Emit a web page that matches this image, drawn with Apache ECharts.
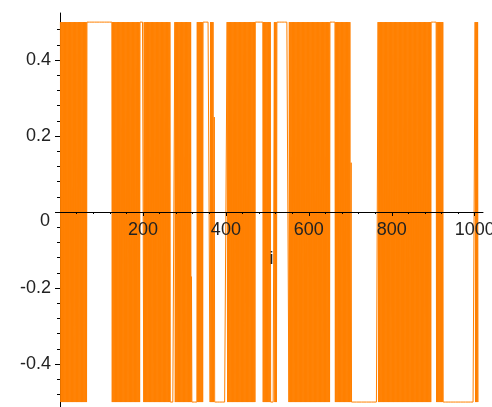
<!DOCTYPE html>
<html>
<head>
<meta charset="utf-8">
<script src="https://cdn.jsdelivr.net/npm/echarts@6/dist/echarts.min.js"></script>
<style>
html,body{margin:0;padding:0;background:#fff;}
#c{width:492px;height:407px;}
</style>
</head>
<body>
<div id="c"></div>
<script>
// Run-length description of the series:
// 'alt' = value flips between +0.5 and -0.5 at every step, 'hi' = stays at +0.5, 'lo' = stays at -0.5
const runStart = [1, 65, 125, 193, 201, 267, 277, 318, 330, 345, 361, 371, 402, 472, 489, 508, 516, 523, 552, 651, 663, 701, 766, 896, 908, 925, 1000];
const runKind  = ['alt','hi','alt','hi','alt','lo','alt','lo','alt','hi','alt','lo','alt','hi','alt','lo','alt','hi','alt','hi','alt','lo','alt','hi','alt','lo','alt'];
const lastIndex = 1008;
// isolated in-between values seen at some transitions
const oddIndex = [317, 372, 702];
const oddValue = [-0.17, 0.25, 0.13];

const xTickLabels = [200, 400, 600, 800, 1000];
const yTickLabels = [-0.4, -0.2, 0, 0.2, 0.4];
const yMinorTicks = [-0.48,-0.44,-0.36,-0.32,-0.28,-0.24,-0.16,-0.12,-0.08,-0.04,0.04,0.08,0.12,0.16,0.24,0.28,0.32,0.36,0.44,0.48];

const data = [];
let r = 0;
for (let i = runStart[0]; i <= lastIndex; i++) {
  while (r + 1 < runStart.length && i >= runStart[r + 1]) r++;
  const k = runKind[r];
  let v = k === 'hi' ? 0.5 : k === 'lo' ? -0.5 : (i % 2 ? 0.5 : -0.5);
  const oi = oddIndex.indexOf(i);
  if (oi >= 0) v = oddValue[oi];
  data.push([i, v]);
}

const yMin = -0.513, yMax = 0.524;
const gridTop = 13, gridH = 394;
const zeroOffset = -Math.round(gridH * (0 - yMin) / (yMax - yMin)); // move x axis up to y = 0

const chart = echarts.init(document.getElementById('c'), null, {renderer: 'canvas'});
const font = {fontFamily: 'Liberation Sans, Arial, sans-serif', fontSize: 18, color: '#222'};
chart.setOption({
  animation: false,
  backgroundColor: '#fff',
  grid: {left: 60, top: gridTop, width: 423, height: gridH, containLabel: false, outerBoundsMode: 'none'},
  xAxis: {
    type: 'value', min: 0, max: 1020, interval: 200,
    position: 'bottom', offset: zeroOffset,
    axisLine: {onZero: false, lineStyle: {color: '#000', width: 1}},
    axisTick: {show: true, length: 4, lineStyle: {color: '#000'}, customValues: xTickLabels},
    minorTick: {show: true, splitNumber: 5, length: 2, lineStyle: {color: '#000'}},
    axisLabel: Object.assign({margin: 9, customValues: xTickLabels, hideOverlap: false,
      formatter: function (v) { return String(v); }}, font),
    splitLine: {show: false},
    name: 'i', nameLocation: 'middle', nameGap: 38,
    nameTextStyle: font,
    z: 5
  },
  yAxis: [{
    type: 'value', min: yMin, max: yMax,
    axisLine: {show: true, onZero: false, lineStyle: {color: '#000', width: 1}},
    axisTick: {show: true, length: 5, lineStyle: {color: '#000'}, customValues: yTickLabels},
    axisLabel: Object.assign({margin: 9, customValues: yTickLabels,
      formatter: function (v) { return v === 0 ? '{z|0}' : String(v); },
      rich: {z: Object.assign({padding: [18, 1, 0, 0]}, font)}
    }, font),
    splitLine: {show: false}
  }, {
    type: 'value', min: yMin, max: yMax, position: 'left',
    axisLine: {show: false, onZero: false},
    axisTick: {show: true, length: 3, lineStyle: {color: '#000'}, customValues: yMinorTicks},
    axisLabel: {show: false},
    splitLine: {show: false}
  }],
  series: [{
    type: 'line', data: data, showSymbol: false, symbol: 'none',
    sampling: null, progressive: 0,
    lineStyle: {color: '#FF8000', width: 1},
    z: 1
  }]
});
</script>
</body>
</html>
